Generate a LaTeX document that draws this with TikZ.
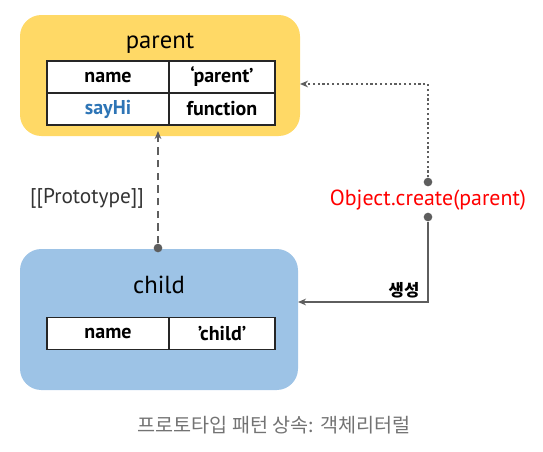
\documentclass[tikz,border=0pt]{standalone}
\usepackage{fontspec}
\setmainfont{PT Sans}
\newfontfamily\krfont{Noto Sans CJK KR}
\usepackage{tikz}
\usetikzlibrary{positioning, arrows.meta}

\definecolor{boxyellow}{HTML}{FFD966}
\definecolor{boxblue}{HTML}{9DC3E6}
\definecolor{linegray}{HTML}{5E5E5E}
\definecolor{keyblue}{HTML}{2E75B6}

\tikzset{
    objbox/.style={rounded corners=16pt, inner sep=0pt, outer sep=0pt},
    cell/.style={draw=black!85, fill=white, line width=0.9pt, inner sep=0pt, outer sep=0pt,
        minimum height=24pt, font=\bfseries\fontsize{15}{17}\selectfont},
    dot/.style={circle, fill=linegray, inner sep=0pt, minimum size=6.5pt},
}

\begin{document}
\begin{tikzpicture}[x=0.75pt, y=-0.75pt, >={Stealth[length=6pt, width=5pt]}]
    \useasboundingbox (0, 0) rectangle (543, 451);

    % objects
    \node[objbox, fill=boxyellow, minimum width=210pt, minimum height=90.75pt] at (160, 75.5) (parent) {};
    \node[objbox, fill=boxblue, minimum width=208.5pt, minimum height=105.75pt] at (159, 319.5) (child) {};

    \node[font=\fontsize{18.5}{21}\selectfont] at (160, 43) (ptitle) {parent};
    \node[font=\fontsize{18.5}{21}\selectfont] at (159, 285) (ctitle) {child};

    % parent table
    \node[cell, minimum width=91.5pt] at (108, 77) (p11) {name};
    \node[cell, minimum width=79.5pt, right=0pt of p11] (p12) {`parent'};
    \node[cell, minimum width=91.5pt, below=0pt of p11] (p21) {\textcolor{keyblue}{sayHi}};
    \node[cell, minimum width=79.5pt, right=0pt of p21] (p22) {function};

    % child table
    \node[cell, minimum width=91.5pt] at (108, 333.5) (c11) {name};
    \node[cell, minimum width=79.5pt, right=0pt of c11] (c12) {'child'};

    % Object.create
    \node[text=red, font=\fontsize{16.4}{19}\selectfont] at (428, 200) (create) {Object.create(parent)};
    \node[dot] at (428, 182) (dtop) {};
    \node[dot] at (428, 217) (dbot) {};
    \node[dot] at (158, 248) (cdot) {};
    \coordinate (pin) at (300, 84);
    \coordinate (cin) at (298, 302);
    \coordinate (pbot) at (158, 131);

    % links
    \draw[->, linegray, line width=2pt, dash pattern=on 5.5pt off 4pt] (cdot) -- (pbot);
    \draw[->, linegray, line width=1.6pt, dotted] (dtop) |- (pin);
    \draw[->, linegray, line width=1.6pt] (dbot) |- (cin);

    \node[text=black!80, font=\fontsize{16}{19}\selectfont] at (87, 198) (proto) {[[Prototype]]};
    \node[font=\krfont\bfseries\fontsize{12.5}{15}\selectfont] at (404, 290) (make) {생성};

    \node[text=black!55, font=\krfont\fontsize{14.7}{17}\selectfont] at (274, 425) (caption) {프로토타입 패턴 상속: 객체리터럴};
\end{tikzpicture}
\end{document}
